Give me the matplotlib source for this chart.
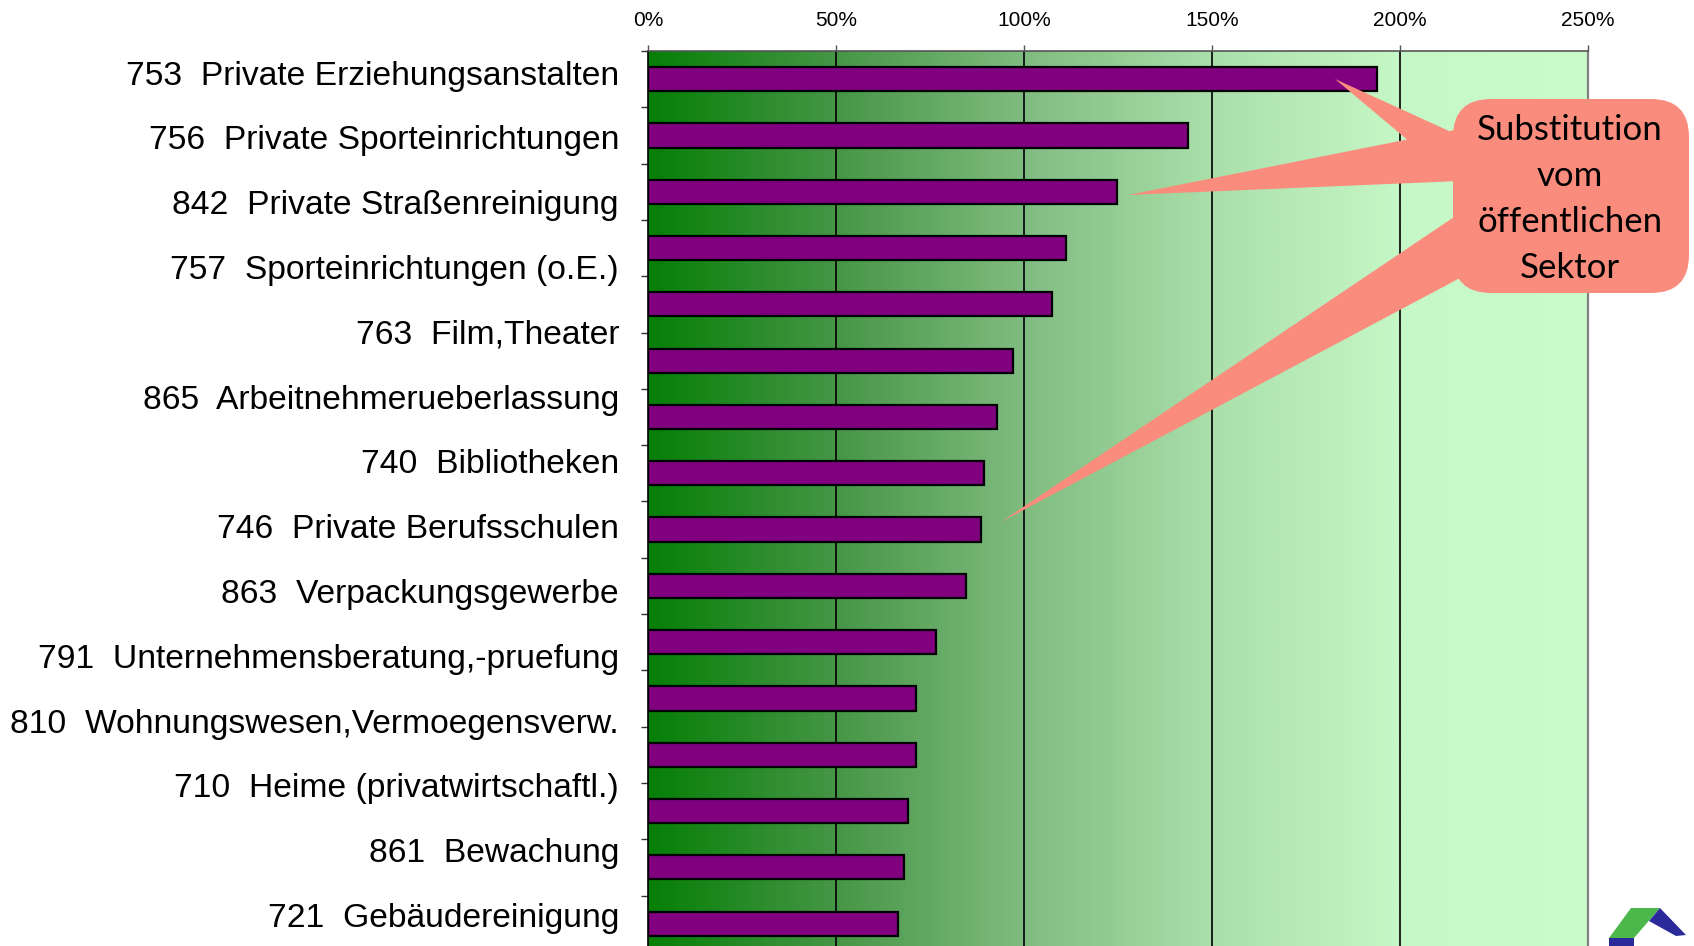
import numpy as np
import matplotlib
matplotlib.use("Agg")
import matplotlib.pyplot as plt
from matplotlib.colors import LinearSegmentedColormap
from matplotlib.patches import FancyBboxPatch, Polygon

# -------------------------------------------------------------
# Data
# -------------------------------------------------------------
codes = ["753", "756", "842", "757", "763", "865", "740",
         "746", "863", "791", "810", "710", "861", "721"]
names = [
    "Private Erziehungsanstalten",
    "Private Sporteinrichtungen",
    "Private Straßenreinigung",
    "Sporteinrichtungen (o.E.)",
    "Film,Theater",
    "Arbeitnehmerueberlassung",
    "Bibliotheken",
    "Private Berufsschulen",
    "Verpackungsgewerbe",
    "Unternehmensberatung,-pruefung",
    "Wohnungswesen,Vermoegensverw.",
    "Heime (privatwirtschaftl.)",
    "Bewachung",
    "Gebäudereinigung",
]
# growth in percent, one per bar (16 bars, the last ones run off the slide)
bar_values = [193.8, 143.5, 124.6, 111.2, 107.3, 97.0, 92.8, 89.2,
              88.5, 84.6, 76.5, 71.1, 71.1, 69.0, 67.9, 66.5]
x_ticks = [0, 50, 100, 150, 200, 250]
x_tick_labels = ["0%", "50%", "100%", "150%", "200%", "250%"]
callout_lines = ["Substitution", "vom", "öffentlichen", "Sektor"]

W, H = 1694, 946
fig = plt.figure(figsize=(W / 100, H / 100), dpi=100)

# -------------------------------------------------------------
# Bar chart (axes runs past the bottom edge, like the slide)
# -------------------------------------------------------------
ax = fig.add_axes([648.2 / W, 1 - 951.8 / H, 940 / W, 900.8 / H])
n = len(bar_values)
ypos = np.arange(n)

bg = LinearSegmentedColormap.from_list(
    "bg",
    [(0.0, "#067f06"), (0.2, "#469646"), (0.4, "#80bc80"),
     (0.6, "#aadfaa"), (0.8, "#c6f7c6"), (1.0, "#cafbca")],
)
ax.imshow(np.linspace(0, 1, 512)[None, :], cmap=bg,
          extent=[0, 250, n - 0.5, -0.5], aspect="auto", zorder=0)

for v in x_ticks[1:-1]:
    ax.axvline(v, color="black", linewidth=1.2, zorder=2)

ax.barh(ypos, bar_values, height=0.43, color="#800080",
        edgecolor="black", linewidth=1.6, zorder=3)

ax.set_xlim(0, 250)
ax.set_ylim(n - 0.5, -0.5)
ax.xaxis.tick_top()
ax.set_xticks(x_ticks)
ax.set_xticklabels(x_tick_labels, fontsize=15, family="Liberation Sans")
ax.tick_params(axis="x", direction="out", length=4, width=1,
               pad=11, color="#555555")
ax.set_yticks(np.arange(n + 1) - 0.5)
ax.set_yticklabels([])
ax.tick_params(axis="y", direction="out", length=5, width=1, color="#333333")

ax.spines["left"].set_color("black")
ax.spines["left"].set_linewidth(1.2)
ax.spines["top"].set_color("#555555")
ax.spines["top"].set_linewidth(1.2)
ax.spines["right"].set_color("#808080")
ax.spines["right"].set_linewidth(1.6)
ax.spines["bottom"].set_visible(False)

# -------------------------------------------------------------
# Overlay in pixel coordinates: labels, callout, logo
# -------------------------------------------------------------
ov = fig.add_axes([0, 0, 1, 1])
ov.set_xlim(0, W)
ov.set_ylim(H, 0)
ov.axis("off")
ov.patch.set_alpha(0)

for k, (c, name) in enumerate(zip(codes, names)):
    ov.text(619, 84.5 + 64.8 * k, f"{c}  {name}", ha="right", va="baseline",
            fontsize=24.2, family="Liberation Sans", color="black")

salmon = "#fa8c7d"
wedges = [
    [(1335, 79), (1460, 136), (1460, 184)],
    [(1128, 195), (1460, 129), (1460, 181)],
    [(1001, 522), (1460, 213), (1460, 278)],
]
for w in wedges:
    ov.add_patch(Polygon(w, closed=True, facecolor=salmon,
                         edgecolor="none", zorder=5))
ov.add_patch(FancyBboxPatch((1453, 99), 236, 194,
                            boxstyle="round,pad=0,rounding_size=38",
                            facecolor=salmon, edgecolor="none", zorder=6))
for k, line in enumerate(callout_lines):
    ov.text(1570, 130 + 46 * k, line, ha="center", va="center",
            fontsize=25, family="Lato", color="black", zorder=7)

# logo (roof) bottom right
ov.add_patch(Polygon([(1609, 938), (1631, 908), (1660, 908), (1634, 938)],
                     closed=True, facecolor="#4cb84c", edgecolor="none"))
ov.add_patch(Polygon([(1660, 908), (1686, 935), (1676, 936), (1649, 921)],
                     closed=True, facecolor="#2a2a9a", edgecolor="none"))
ov.add_patch(Polygon([(1609, 938), (1634, 938), (1634, 946), (1609, 946)],
                     closed=True, facecolor="#2a2a9a", edgecolor="none"))

fig.savefig("out.png", dpi=100)
